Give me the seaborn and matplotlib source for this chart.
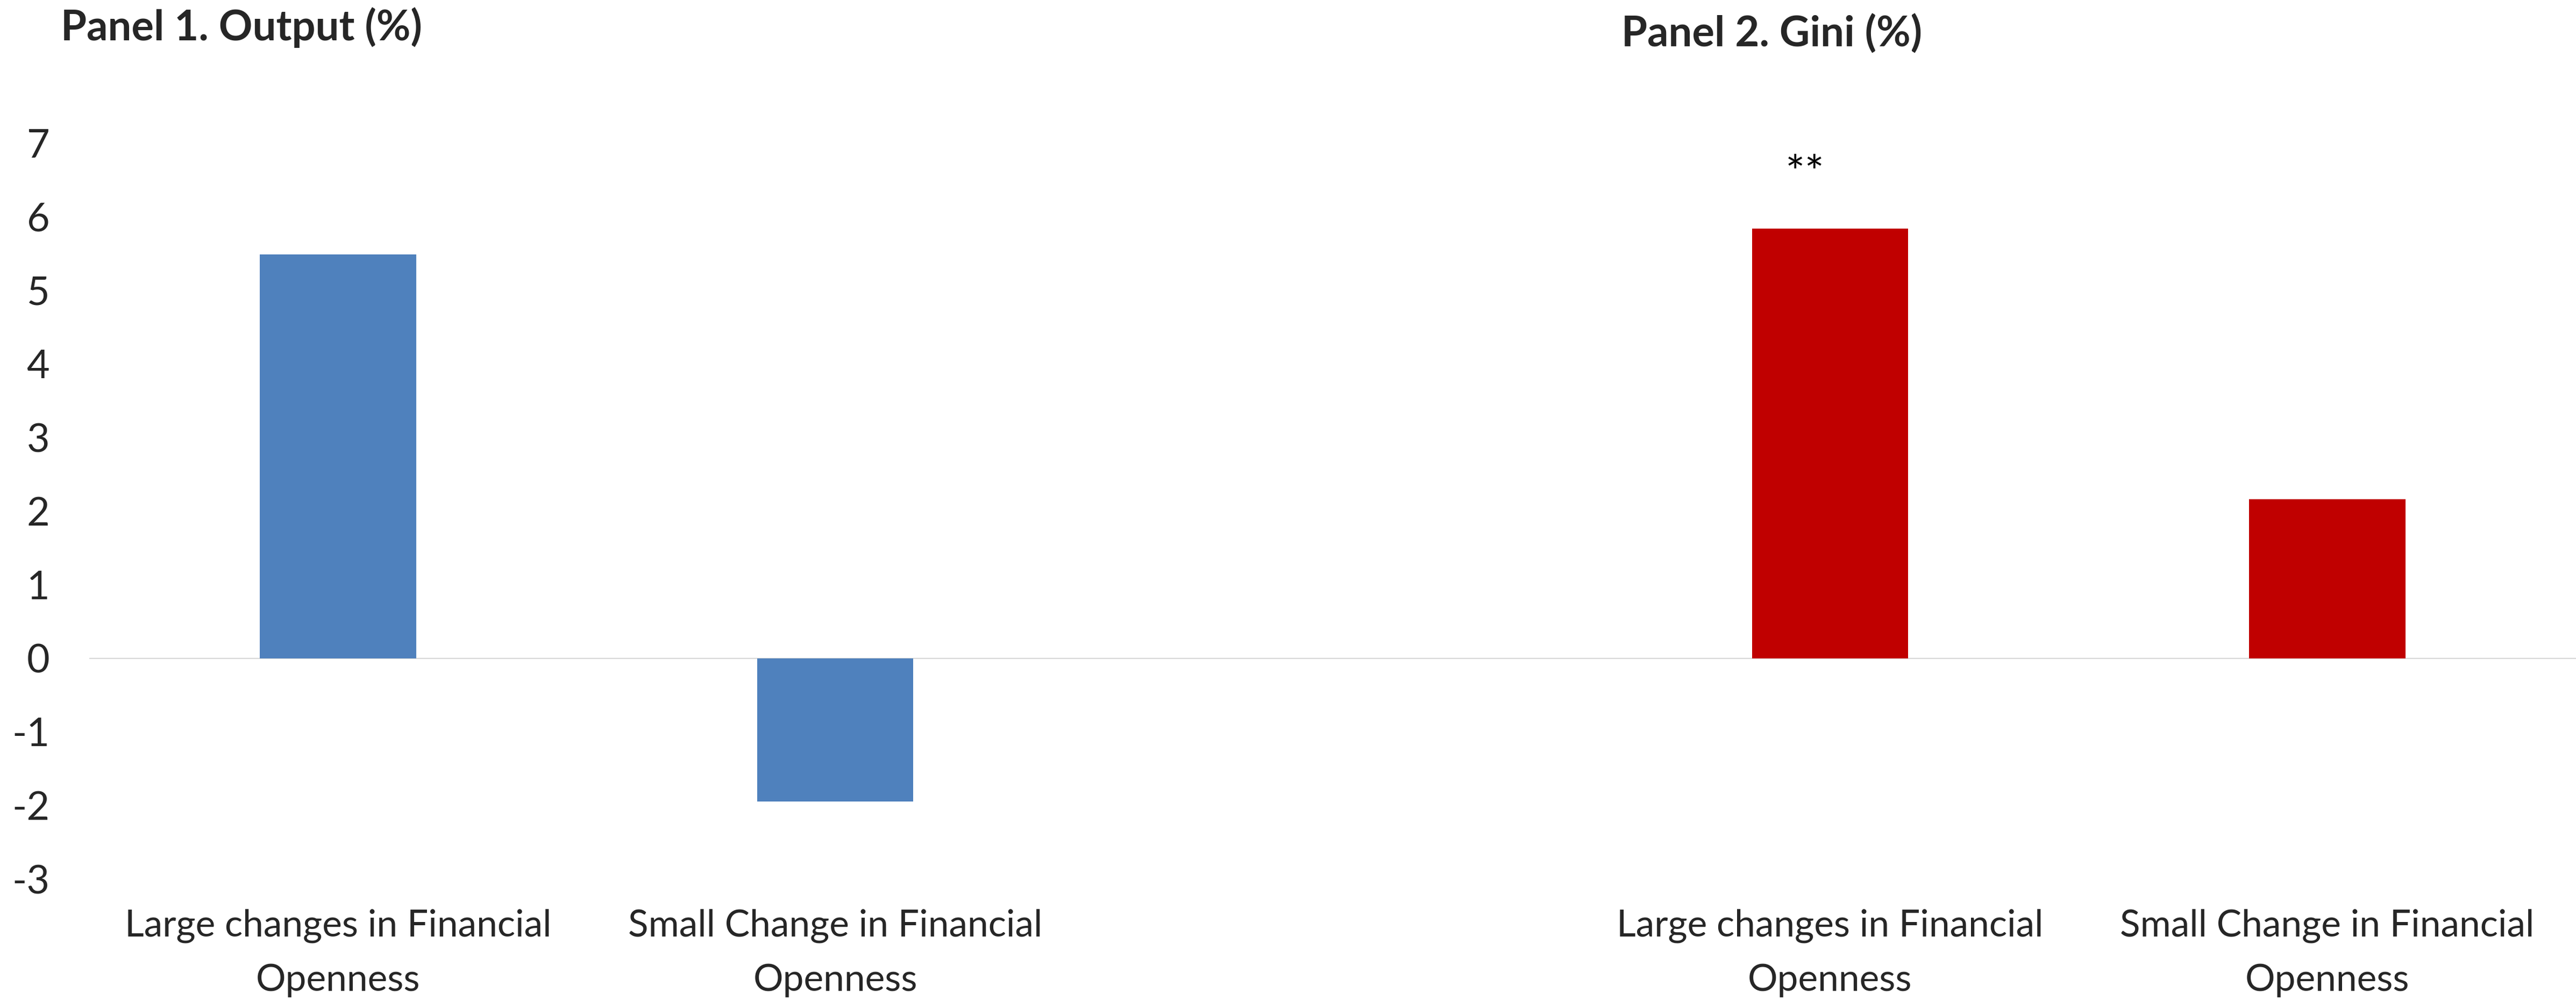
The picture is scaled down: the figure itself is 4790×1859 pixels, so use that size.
import matplotlib
matplotlib.use("Agg")
import matplotlib.pyplot as plt
import seaborn as sns
import pandas as pd

# Bar values (percent) for each panel
slots = ["out_large", "out_small", "gap", "gini_large", "gini_small"]
bar_slots = ["out_large", "out_small", "gini_large", "gini_small"]
panels = ["Output", "Output", "Gini", "Gini"]
values = [5.49, -1.95, 5.84, 2.16]
tick_labels = [
    "Large changes in Financial\nOpenness",
    "Small Change in Financial\nOpenness",
    "",
    "Large changes in Financial\nOpenness",
    "Small Change in Financial\nOpenness",
]
y_ticks = list(range(-3, 8))
panel_titles = ["Panel 1. Output (%)", "Panel 2. Gini (%)"]
significance = "**"

sns.set_theme(style="white")
plt.rcParams["font.family"] = ["Lato", "DejaVu Sans"]
plt.rcParams["axes.unicode_minus"] = False

df = pd.DataFrame({"slot": bar_slots, "panel": panels, "value": values})

fig = plt.figure(figsize=(47.9, 18.59), dpi=100)
ax = fig.add_axes([166 / 4790, 1 - 1634 / 1859, 1 - 166 / 4790, (1634 - 266) / 1859])

sns.barplot(
    data=df, x="slot", y="value", hue="panel", order=slots,
    palette={"Output": "#4F81BD", "Gini": "#C00000"},
    dodge=False, width=0.314, legend=False, ax=ax,
    saturation=1, edgecolor="none",
)

ax.axhline(0, color="#D9D9D9", lw=1.6, zorder=0)
ax.set_ylim(-3, 7)
ax.set_xlim(-0.5, 4.5)
ax.set_yticks(y_ticks)
ax.set_yticklabels([str(t) for t in y_ticks])
ax.set_xticks(range(len(slots)))
ax.set_xticklabels(tick_labels)
for lbl in ax.get_xticklabels():
    lbl.set_linespacing(1.75)
ax.tick_params(axis="y", length=0, pad=53, labelsize=53)
ax.tick_params(axis="x", length=0, pad=40, labelsize=50)
ax.set_xlabel("")
ax.set_ylabel("")
for s in ax.spines.values():
    s.set_visible(False)

# significance marker above the Gini "large changes" bar
ax.text(3 - 0.05, values[2] + 0.72, significance, ha="center", va="center",
        fontsize=62, color="black")

fig.text(113 / 4790, 1 - 75 / 1859, panel_titles[0], fontsize=56,
         fontweight="bold", ha="left", va="baseline")
fig.text(3015 / 4790, 1 - 87 / 1859, panel_titles[1], fontsize=56,
         fontweight="bold", ha="left", va="baseline")

fig.savefig("out.png", dpi=100, facecolor="white")
